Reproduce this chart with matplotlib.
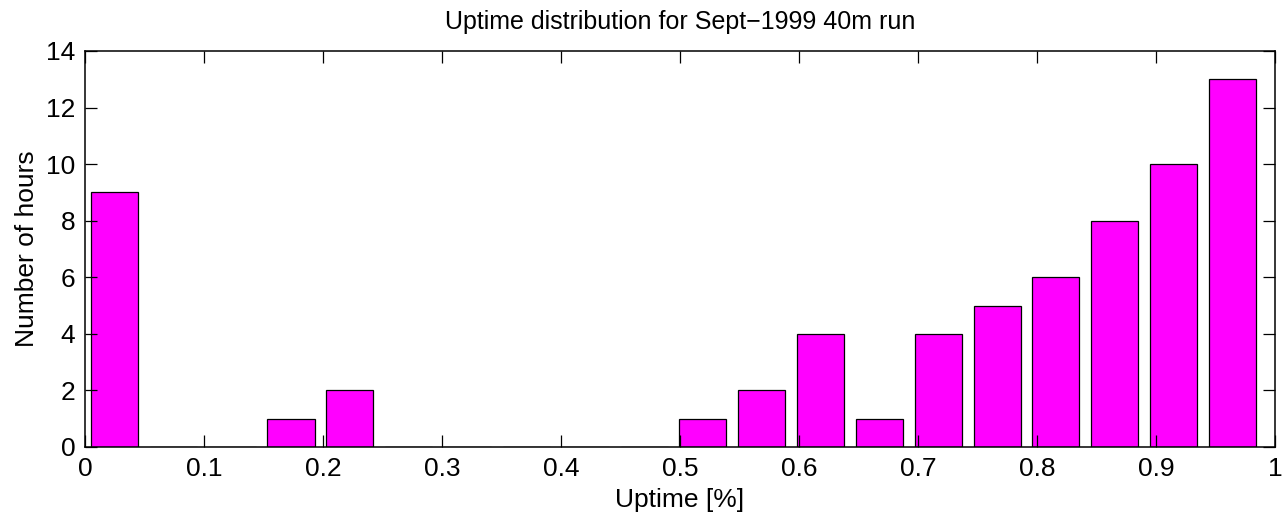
import matplotlib
matplotlib.use("Agg")
import matplotlib.pyplot as plt
import numpy as np

# bin centres (20 equal bins between data min and max) and counts
bin_centres = [0.0247, 0.0742, 0.1236, 0.1731, 0.2225, 0.2720, 0.3214, 0.3709, 0.4203, 0.4698,
               0.5192, 0.5687, 0.6181, 0.6676, 0.7170, 0.7665, 0.8159, 0.8654, 0.9148, 0.9643]
hours = [9, 0, 0, 1, 2, 0, 0, 0, 0, 0,
         1, 2, 4, 1, 4, 5, 6, 8, 10, 13]
x_ticks = [0, 0.1, 0.2, 0.3, 0.4, 0.5, 0.6, 0.7, 0.8, 0.9, 1]
x_labels = ["0", "0.1", "0.2", "0.3", "0.4", "0.5", "0.6", "0.7", "0.8", "0.9", "1"]
y_ticks = [0, 2, 4, 6, 8, 10, 12, 14]

plt.rcParams['font.family'] = ['Liberation Sans', 'DejaVu Sans']

fig = plt.figure(figsize=(12.85, 5.24), dpi=100)
ax = fig.add_axes([85 / 1285, 1 - 447 / 524, 1190 / 1285, 396 / 524])

ax.bar(bin_centres, hours, width=0.0396, color="#ff00ff", edgecolor="black", linewidth=0.9)

ax.set_xlim(0, 1)
ax.set_ylim(0, 14)
ax.set_xticks(x_ticks)
ax.set_xticklabels(x_labels)
ax.set_yticks(y_ticks)
ax.tick_params(direction="in", length=8.5, width=0.9, labelsize=19, top=True, right=True, pad=7)
for s in ax.spines.values():
    s.set_linewidth(1.1)

ax.set_title("Uptime distribution for Sept\u22121999 40m run", fontsize=18, pad=16)
ax.set_xlabel("Uptime [%]", fontsize=19, labelpad=5)
ax.set_ylabel("Number of hours", fontsize=19, labelpad=5)

fig.savefig("out.png", dpi=100)
